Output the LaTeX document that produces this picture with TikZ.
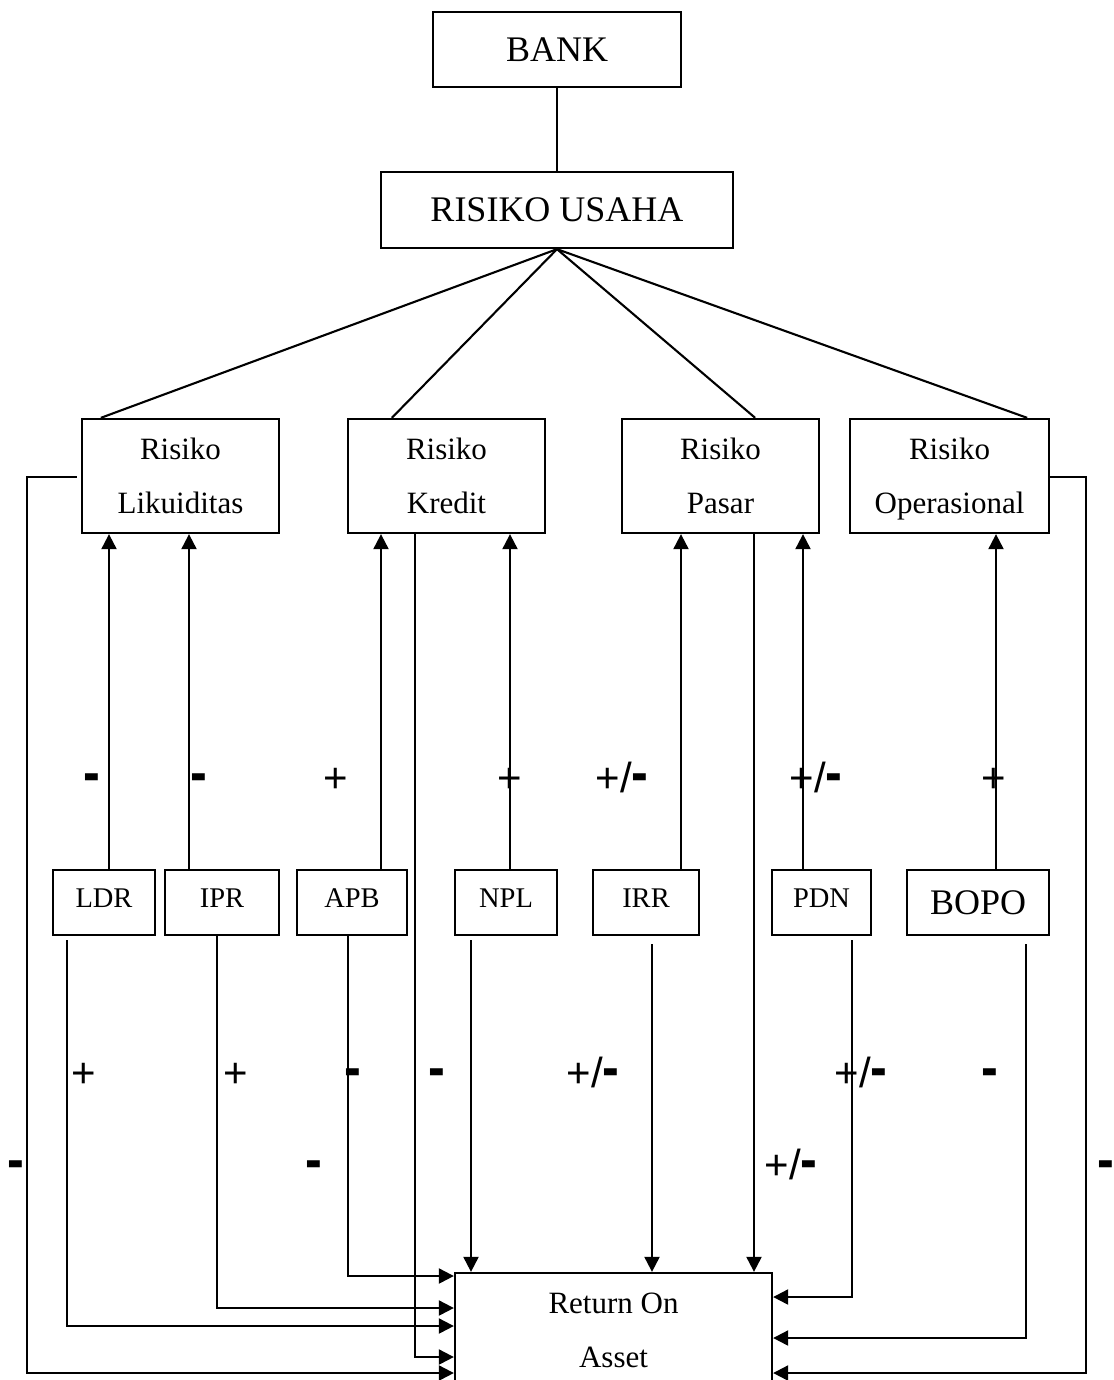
\documentclass[tikz,border=0pt]{standalone}
\usepackage{fontspec}
\setmainfont{Liberation Serif}
\newfontfamily\signfont{Liberation Sans}
\usetikzlibrary{arrows.meta}
\newcommand{\mysgnminus}{\scalebox{1.2}[1.4]{\bfseries -}}
\newcommand{\mysgnpm}{+/\mysgnminus}
\begin{document}
\begin{tikzpicture}[x=1pt,y=-1pt,
  box/.style={draw,line width=2.3pt,inner sep=0pt,align=center},
  bigtxt/.style={font=\fontsize{36}{43}\selectfont},
  risk/.style={box,minimum width=197pt,minimum height=114pt,font=\fontsize{31}{54}\selectfont,text depth=0pt},
  small/.style={box,minimum height=65pt,font=\fontsize{28.5}{34}\selectfont,text depth=8pt},
  ln/.style={line width=2.1pt},
  arr/.style={line width=2.1pt,-{Triangle[width=15pt,length=15pt]}},
  sg/.style={font=\signfont\fontsize{42}{42}\selectfont,anchor=base,inner sep=0pt}]
\useasboundingbox (0,0) rectangle (1113,1380);
% top
\node[box,bigtxt,minimum width=248pt,minimum height=75pt] (bank) at (557,49.5) {BANK};
\node[box,bigtxt,minimum width=352pt,minimum height=76pt] (usaha) at (557,210) {RISIKO USAHA};
% risks
\node[risk] (lik) at (180.5,476) {Risiko\\Likuiditas};
\node[risk] (kre) at (446.5,476) {Risiko\\Kredit};
\node[risk] (pas) at (720.5,476) {Risiko\\Pasar};
\node[risk,minimum width=199pt] (ops) at (949.5,476) {Risiko\\Operasional};
% ratios
\node[small,minimum width=102pt] (ldr) at (104,902.5) {LDR};
\node[small,minimum width=114pt] (ipr) at (222,902.5) {IPR};
\node[small,minimum width=110pt] (apb) at (352,902.5) {APB};
\node[small,minimum width=102pt] (npl) at (506,902.5) {NPL};
\node[small,minimum width=106pt] (irr) at (646,902.5) {IRR};
\node[small,minimum width=99pt] (pdn) at (821.5,902.5) {PDN};
\node[box,bigtxt,minimum width=142pt,minimum height=65pt] (bopo) at (978,902.5) {BOPO};
% ROA
\node[risk,minimum width=317pt] (roa) at (613.5,1330) {Return On\\Asset};
% tree lines
\draw[ln] (bank) -- (usaha);
\draw[ln] (usaha.south) -- ([xshift=20pt]lik.north west);
\draw[ln] (usaha.south) -- ([xshift=45pt]kre.north west);
\draw[ln] (usaha.south) -- ([xshift=-65pt]pas.north east);
\draw[ln] (usaha.south) -- ([xshift=-23pt]ops.north east);
% up arrows
\draw[arr] (ldr.north -| 109,0) -- (lik.south -| 109,0);
\draw[arr] (ipr.north -| 189,0) -- (lik.south -| 189,0);
\draw[arr] (apb.north -| 381,0) -- (kre.south -| 381,0);
\draw[arr] (npl.north -| 510,0) -- (kre.south -| 510,0);
\draw[arr] (irr.north -| 681,0) -- (pas.south -| 681,0);
\draw[arr] (pdn.north -| 803,0) -- (pas.south -| 803,0);
\draw[arr] (bopo.north -| 996,0) -- (ops.south -| 996,0);
% down to ROA
\draw[arr] (npl.south -| 471,0) ++(0,4) -- (roa.north -| 471,0);
\draw[arr] (irr.south -| 652,0) ++(0,8) -- (roa.north -| 652,0);
\draw[arr] (pas.south -| 754,0) -- (roa.north -| 754,0);
% left side to ROA
\draw[arr] (apb.south -| 348,0) |- (roa.west |- 0,1276);
\draw[arr] (ipr.south -| 217,0) |- (roa.west |- 0,1308);
\draw[arr] (ldr.south -| 67,0) ++(0,4) |- (roa.west |- 0,1326);
\draw[arr] (kre.south -| 415,0) |- (roa.west |- 0,1357);
\draw[arr] (lik.west |- 0,477) ++(-4,0) -- (27,477) |- (roa.west |- 0,1373);
% right side to ROA
\draw[arr] (pdn.south -| 852,0) ++(0,4) |- (roa.east |- 0,1297);
\draw[arr] (bopo.south -| 1026,0) ++(0,8) |- (roa.east |- 0,1338);
\draw[arr] (ops.east |- 0,477) -- (1086,477) |- (roa.east |- 0,1373);
% signs row 1
\node[sg] (s1) at (92,792) {\mysgnminus};
\node[sg] (s2) at (199,792) {\mysgnminus};
\node[sg] (s3) at (336,792) {+};
\node[sg] (s4) at (510,792) {+};
\node[sg] (s5) at (622,792) {\mysgnpm};
\node[sg] (s6) at (816,792) {\mysgnpm};
\node[sg] (s7) at (994,792) {+};
% signs row 2
\node[sg] (s8) at (84,1087) {+};
\node[sg] (s9) at (236,1087) {+};
\node[sg] (s10) at (353,1087) {\mysgnminus};
\node[sg] (s11) at (437,1087) {\mysgnminus};
\node[sg] (s12) at (593,1087) {\mysgnpm};
\node[sg] (s13) at (861,1087) {\mysgnpm};
\node[sg] (s14) at (990,1087) {\mysgnminus};
% signs row 3
\node[sg] (s15) at (16,1179) {\mysgnminus};
\node[sg] (s16) at (314,1179) {\mysgnminus};
\node[sg] (s17) at (791,1179) {\mysgnpm};
\node[sg] (s18) at (1106,1179) {\mysgnminus};
\end{tikzpicture}
\end{document}
